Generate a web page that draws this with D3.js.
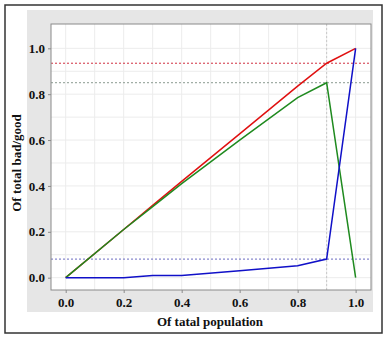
<!DOCTYPE html>
<html><head><meta charset="utf-8">
<script src="https://cdn.jsdelivr.net/npm/d3@7"></script>
<style>body{margin:0;background:#fff;}svg{display:block;}</style>
</head><body>
<svg id="c" width="386" height="338"></svg>
<script>
const xs = [0, 0.2, 0.3, 0.4, 0.6, 0.8, 0.9, 1.0];
const redVals = [0, 0.21, 0.315, 0.42, 0.627, 0.835, 0.935, 1.0];
const greenVals = [0, 0.21, 0.31, 0.41, 0.60, 0.785, 0.85, 0.0];
const blueVals = [0, 0, 0.01, 0.01, 0.03, 0.052, 0.081, 1.0];
const refLines = [{v:0.935,c:"#d03040"},{v:0.85,c:"#8a9a90"},{v:0.081,c:"#6a6ac0"}];
const tickVals = [0, 0.2, 0.4, 0.6, 0.8, 1.0];
const gridVals = [0,0.1,0.2,0.3,0.4,0.5,0.6,0.7,0.8,0.9,1.0];

const svg = d3.select("#c");
// outer frame
svg.append("rect").attr("x",5).attr("y",5).attr("width",377).attr("height",328)
  .attr("fill","#fff").attr("stroke","#333").attr("stroke-width",1.5);
// gray panel
svg.append("rect").attr("x",27).attr("y",10).attr("width",346).attr("height",302).attr("fill","#e6e6e6");

const L=51,R=371,T=24,B=290;
const x = d3.scaleLinear().domain([-0.0507,1.053]).range([L,R]);
const y = d3.scaleLinear().domain([-0.0537,1.106]).range([B,T]);

svg.append("rect").attr("x",L).attr("y",T).attr("width",R-L).attr("height",B-T).attr("fill","#fff");

const g = svg.append("g");
g.selectAll(".vg").data(gridVals).join("line").attr("x1",d=>x(d)).attr("x2",d=>x(d)).attr("y1",T).attr("y2",B)
  .attr("stroke","#ececec").attr("stroke-width",1);
g.selectAll(".hg").data(gridVals).join("line").attr("y1",d=>y(d)).attr("y2",d=>y(d)).attr("x1",L).attr("x2",R)
  .attr("stroke","#ececec").attr("stroke-width",1);
// vertical dotted at 0.9
g.append("line").attr("x1",x(0.9)).attr("x2",x(0.9)).attr("y1",T).attr("y2",B)
  .attr("stroke","#c8c8c8").attr("stroke-width",1).attr("stroke-dasharray","2,2");
// horizontal ref lines
g.selectAll(".ref").data(refLines).join("line").attr("x1",L).attr("x2",R)
  .attr("y1",d=>y(d.v)).attr("y2",d=>y(d.v)).attr("stroke",d=>d.c).attr("stroke-width",1).attr("stroke-dasharray","2,2");

const line = d3.line().x((d,i)=>x(xs[i])).y(d=>y(d));
[[redVals,"#e01010"],[greenVals,"#1f8a1f"],[blueVals,"#1010c8"]].forEach(([v,c])=>{
  g.append("path").datum(v).attr("d",line).attr("fill","none").attr("stroke",c).attr("stroke-width",1.5);
});

// plot border
svg.append("rect").attr("x",L).attr("y",T).attr("width",R-L).attr("height",B-T)
  .attr("fill","none").attr("stroke","#8a8a8a").attr("stroke-width",1);

const fmt = d3.format(".1f");
const xa = svg.append("g").attr("transform",`translate(0,${B})`)
  .call(d3.axisBottom(x).tickValues(tickVals).tickFormat(fmt).tickSize(3).tickPadding(5));
const ya = svg.append("g").attr("transform",`translate(${L},0)`)
  .call(d3.axisLeft(y).tickValues(tickVals).tickFormat(fmt).tickSize(3).tickPadding(3));
[xa,ya].forEach(a=>{
  a.select(".domain").remove();
  a.selectAll("line").attr("stroke","#8a8a8a");
  a.selectAll("text").attr("font-family","Liberation Serif").attr("font-weight","bold")
   .attr("font-size",13).attr("fill","#111");
});

svg.append("text").attr("x",210).attr("y",326).attr("text-anchor","middle")
  .attr("font-family","Liberation Serif").attr("font-weight","bold").attr("font-size",13).attr("fill","#111")
  .text("Of tatal population");
svg.append("text").attr("transform","translate(21,163) rotate(-90)").attr("text-anchor","middle")
  .attr("font-family","Liberation Serif").attr("font-weight","bold").attr("font-size",13).attr("fill","#111")
  .text("Of total bad/good");
</script>
</body></html>
